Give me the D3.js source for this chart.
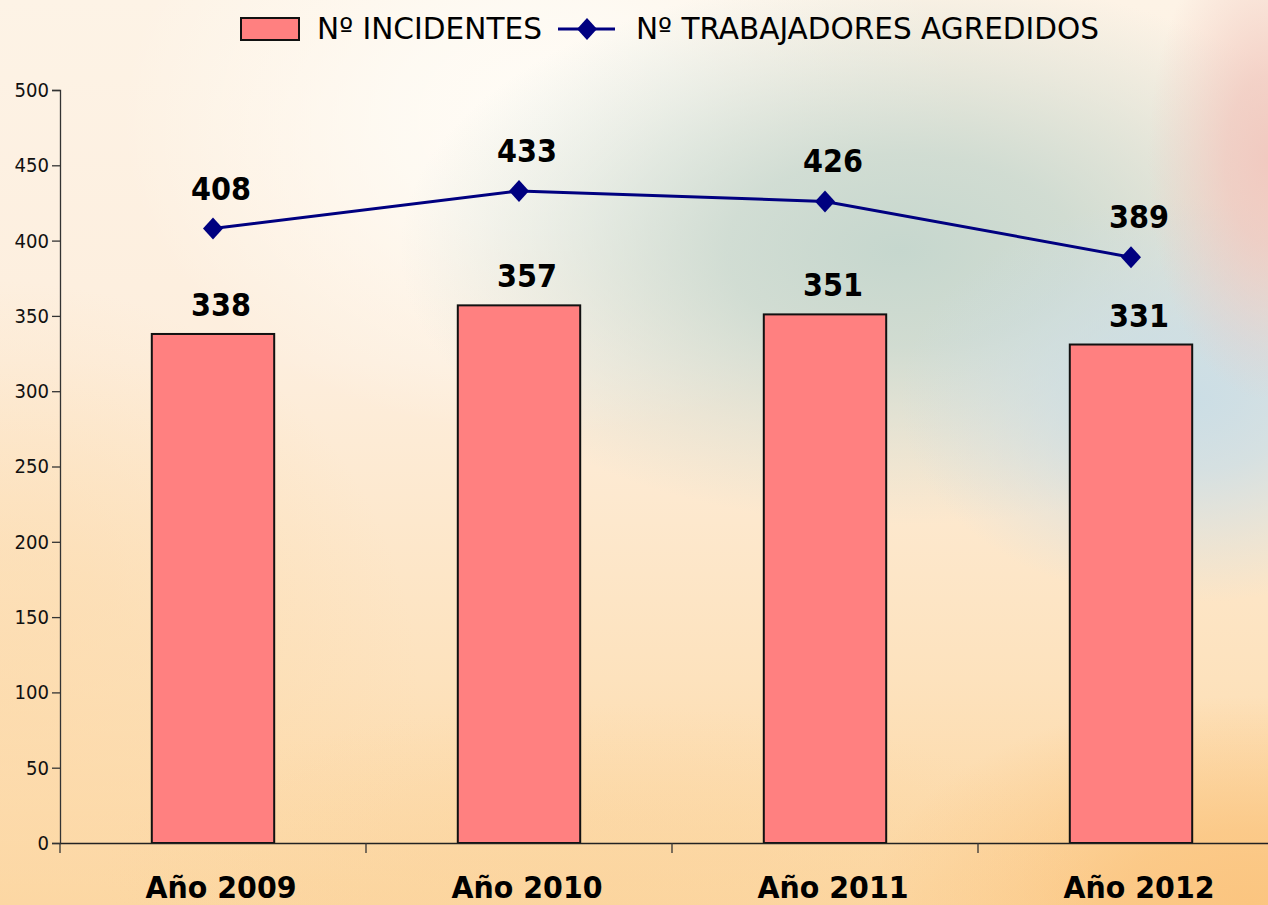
<!DOCTYPE html>
<html><head><meta charset="utf-8">
<script src="https://cdn.jsdelivr.net/npm/d3@7"></script>
<style>html,body{margin:0;padding:0;overflow:hidden;}svg{display:block;}</style>
</head><body>
<script>
const categories = ["Año 2009", "Año 2010", "Año 2011", "Año 2012"];
const incidentes = [338, 357, 351, 331];
const trabajadores = [408, 433, 426, 389];
const yTicks = [0, 50, 100, 150, 200, 250, 300, 350, 400, 450, 500];
const seriesNames = ["Nº INCIDENTES", "Nº TRABAJADORES AGREDIDOS"];

const W = 1268, H = 905;
const svg = d3.select("body").append("svg").attr("width", W).attr("height", H);
const defs = svg.append("defs");

// background
const lg = defs.append("linearGradient").attr("id","bg").attr("x1",0).attr("y1",0).attr("x2",0).attr("y2",1);
lg.append("stop").attr("offset","0%").attr("stop-color","#fdf3e6");
lg.append("stop").attr("offset","40%").attr("stop-color","#fdeedd");
lg.append("stop").attr("offset","75%").attr("stop-color","#fde2bd");
lg.append("stop").attr("offset","100%").attr("stop-color","#fcd6a0");
svg.append("rect").attr("width",W).attr("height",H).attr("fill","url(#bg)");

function radial(id, cx, cy, r, color, op, scaleY) {
  const g = defs.append("radialGradient").attr("id", id).attr("gradientUnits","userSpaceOnUse")
    .attr("cx", cx).attr("cy", cy).attr("r", r)
    .attr("gradientTransform", `translate(${cx},${cy}) scale(1,${scaleY}) translate(${-cx},${-cy})`);
  g.append("stop").attr("offset","0%").attr("stop-color",color).attr("stop-opacity",op);
  g.append("stop").attr("offset","35%").attr("stop-color",color).attr("stop-opacity",op*0.8);
  g.append("stop").attr("offset","70%").attr("stop-color",color).attr("stop-opacity",op*0.35);
  g.append("stop").attr("offset","100%").attr("stop-color",color).attr("stop-opacity",0);
  svg.append("rect").attr("width",W).attr("height",H).attr("fill",`url(#${id})`);
}
radial("r0", 0, 700, 420, "#fcd9a8", 0.6, 1.0);
radial("r1", 540, 120, 420, "#fffdf8", 0.9, 0.75);
radial("r2", 900, 250, 500, "#c6d7ce", 1.0, 0.55);
radial("r3", 1190, 400, 290, "#c9dde6", 0.95, 0.7);
radial("r4", 1268, 160, 120, "#f1c6bd", 0.9, 2.0);
radial("r5", 1250, 905, 380, "#fbc27a", 0.85, 0.55);
radial("r6", 600, 880, 500, "#fbd49d", 0.5, 0.35);

const x0 = 60, x1 = 1284, yTop = 90, yBot = 843;
const x = d3.scaleBand().domain(categories).range([x0, x1]).paddingInner(0).paddingOuter(0);
const y = d3.scaleLinear().domain([0, 500]).range([yBot, yTop]);
const barW = x.bandwidth() * 0.4;
const labelDx = 8;

const fontTxt = "'DejaVu Sans', Verdana, sans-serif";

// y axis
const yAxis = svg.append("g").attr("transform", `translate(${x0},0)`)
  .call(d3.axisLeft(y).tickValues(yTicks).tickSize(8).tickPadding(3));
yAxis.select(".domain").attr("stroke","#333").attr("stroke-width",1.3);
yAxis.selectAll(".tick line").attr("stroke","#333").attr("stroke-width",1.3);
yAxis.selectAll("text").attr("font-family",fontTxt).attr("font-size",20).attr("fill","#111")
  .attr("textLength", d => String(d).length * 11.5).attr("lengthAdjust","spacingAndGlyphs");

// bars
svg.append("g").selectAll("rect").data(incidentes).join("rect")
  .attr("x", (d,i) => x(categories[i]) + (x.bandwidth()-barW)/2)
  .attr("y", d => y(d))
  .attr("width", barW)
  .attr("height", d => y(0) - y(d))
  .attr("fill", "#ff8080").attr("stroke", "#111").attr("stroke-width", 2);

// x axis
const xAxis = svg.append("g").attr("transform", `translate(0,${yBot})`)
  .call(d3.axisBottom(x).tickValues([]).tickSizeOuter(0));
xAxis.select(".domain").attr("stroke","#222").attr("stroke-width",1.3);
const bounds = categories.map(c => x(c));
xAxis.selectAll("line.sep").data(bounds).join("line").attr("class","sep")
  .attr("x1", d => d).attr("x2", d => d).attr("y1", 0).attr("y2", 10)
  .attr("stroke","#333").attr("stroke-width",1.3);

// category labels
svg.append("g").selectAll("text").data(categories).join("text")
  .attr("x", d => x(d) + x.bandwidth()/2 + labelDx).attr("y", 898)
  .attr("text-anchor","middle").attr("font-family",fontTxt).attr("font-weight","bold")
  .attr("font-size",31).attr("fill","#000")
  .attr("textLength",151).attr("lengthAdjust","spacingAndGlyphs").text(d => d);

// bar labels
svg.append("g").selectAll("text").data(incidentes).join("text")
  .attr("x", (d,i) => x(categories[i]) + x.bandwidth()/2 + labelDx).attr("y", d => y(d) - 18)
  .attr("text-anchor","middle").attr("font-family",fontTxt).attr("font-weight","bold")
  .attr("font-size",32).attr("fill","#000")
  .attr("textLength",60).attr("lengthAdjust","spacingAndGlyphs").text(d => d);

// line
const cx = (d,i) => x(categories[i]) + x.bandwidth()/2;
svg.append("path").datum(trabajadores)
  .attr("d", d3.line().x(cx).y(d => y(d)))
  .attr("fill","none").attr("stroke","#000080").attr("stroke-width",3);
const diamond = "M0,-11L10,0L0,11L-10,0Z";
svg.append("g").selectAll("path").data(trabajadores).join("path")
  .attr("transform",(d,i) => `translate(${cx(d,i)},${y(d)})`)
  .attr("d", diamond).attr("fill","#000080");
svg.append("g").selectAll("text").data(trabajadores).join("text")
  .attr("x", (d,i) => cx(d,i) + labelDx).attr("y", d => y(d) - 29)
  .attr("text-anchor","middle").attr("font-family",fontTxt).attr("font-weight","bold")
  .attr("font-size",32).attr("fill","#000")
  .attr("textLength",60).attr("lengthAdjust","spacingAndGlyphs").text(d => d);

// legend
const leg = svg.append("g");
leg.append("rect").attr("x",241).attr("y",18).attr("width",58).attr("height",22)
  .attr("fill","#ff8080").attr("stroke","#111").attr("stroke-width",2);
leg.append("text").attr("x",317).attr("y",39).attr("font-family",fontTxt).attr("font-size",30)
  .attr("textLength",225).attr("lengthAdjust","spacingAndGlyphs").attr("fill","#000").text(seriesNames[0]);
leg.append("line").attr("x1",558).attr("x2",615).attr("y1",29).attr("y2",29)
  .attr("stroke","#000080").attr("stroke-width",3);
leg.append("path").attr("transform","translate(587,29)").attr("d",diamond).attr("fill","#000080");
leg.append("text").attr("x",636).attr("y",39).attr("font-family",fontTxt).attr("font-size",30)
  .attr("textLength",463).attr("lengthAdjust","spacingAndGlyphs").attr("fill","#000").text(seriesNames[1]);
</script>
</body></html>
